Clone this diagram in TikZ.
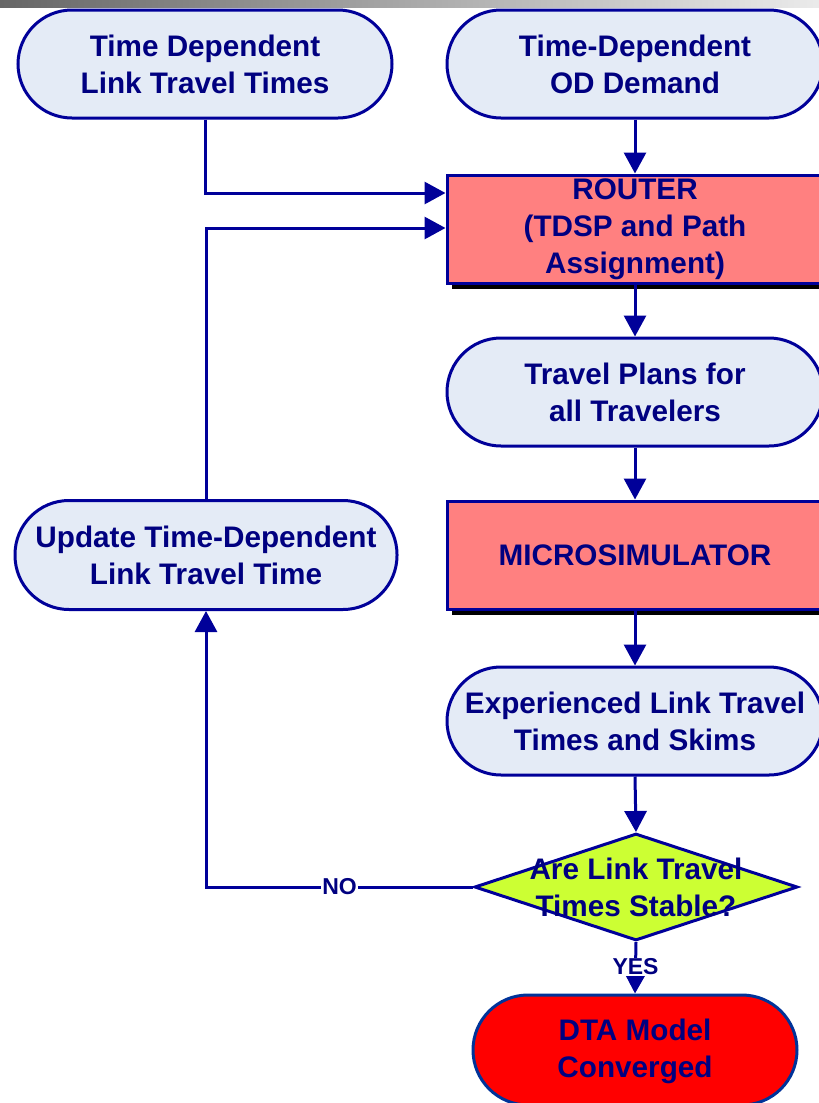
\documentclass[tikz,border=0pt]{standalone}
\usepackage{fontspec}
\setmainfont{Liberation Sans}
\usetikzlibrary{arrows.meta,shapes.geometric,positioning}
\definecolor{navytxt}{HTML}{000080}
\definecolor{navyline}{HTML}{000099}
\definecolor{paleblue}{HTML}{E4EBF6}
\definecolor{salmon}{HTML}{FF8080}
\definecolor{lime}{HTML}{CCFF33}
\definecolor{dtaline}{HTML}{003399}
\tikzset{
  basefont/.style={font=\fontsize{29.7}{37}\selectfont\bfseries, text=navytxt, align=center},
  stadium/.style={basefont, draw=navyline, line width=3pt, fill=paleblue,
    rounded corners=54pt, minimum height=108pt, inner sep=0pt},
  procbox/.style={basefont, draw=navyline, line width=3pt, fill=salmon,
    minimum height=108pt, minimum width=376pt, inner sep=0pt},
  shadowbox/.style={fill=black, draw=none, minimum height=108pt, minimum width=376pt},
  decision/.style={diamond, draw=navyline, line width=3pt, fill=lime,
    minimum width=323pt, minimum height=107pt, inner sep=0pt},
  conn/.style={draw=navyline, line width=3pt},
  arr/.style={conn, -{Triangle[width=22pt,length=21pt]}},
  lbl/.style={font=\fontsize{23}{26}\selectfont\bfseries, text=navytxt, fill=white, inner sep=1pt}
}
\begin{document}
\begin{tikzpicture}[x=1pt,y=-1pt]
\useasboundingbox (0,0) rectangle (819,1103);
% top gradient bar
\shade[left color=black!60, right color=black!8] (0,0) rectangle (819,7);
% nodes
\node[stadium, minimum width=374pt] (tl) at (205,64) {Time Dependent\\Link Travel Times};
\node[stadium, minimum width=376pt] (tr) at (635,64) {Time-Dependent\\OD Demand};
\node[shadowbox] (routersh) at (640,235) {};
\node[procbox] (router) at (635,229) {ROUTER\\(TDSP and Path\\Assignment)};
\node[stadium, minimum width=376pt] (plans) at (635,392) {Travel Plans for\\all Travelers};
\node[shadowbox] (microsh) at (640,561) {};
\node[procbox] (micro) at (635,555) {MICROSIMULATOR};
\node[stadium, minimum width=376pt] (exp) at (635,721) {Experienced Link Travel\\Times and Skims};
\node[decision] (dia) at (636,887) {};
\node[basefont] (diatext) at (636,887) {Are Link Travel\\Times Stable?};
\node[stadium, minimum width=324pt, minimum height=110pt, fill=red, draw=dtaline, rounded corners=55pt] (dta) at (635,1050) {};
\node[basefont] (dtatext) at (635,1051) {DTA Model\\Converged};
\node[stadium, minimum width=382pt, minimum height=109pt] (upd) at (206,555) {Update Time-Dependent\\Link Travel Time};
% connectors
\draw[arr] (tr.south) -- (router.north);
\draw[arr] (tl.south) |- ([yshift=36pt]router.west);
\draw[arr] (upd.north) |- ([yshift=1pt]router.west);
\draw[arr] (router.south) -- (plans.north);
\draw[arr] (plans.south) -- (micro.north);
\draw[arr] (micro.south) -- (exp.north);
\draw[arr] (exp.south) -- (dia.north);
\draw[arr] (dia.south) -- node[lbl, pos=0.48] (yes) {YES} (dta.north);
\draw[arr] (dia.west) -| node[lbl, pos=0.25] (no) {NO} (upd.south);
\end{tikzpicture}
\end{document}
